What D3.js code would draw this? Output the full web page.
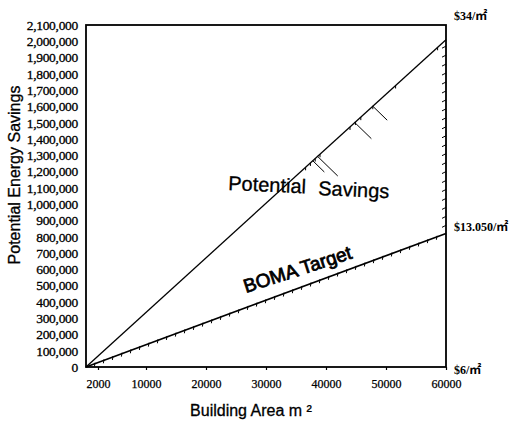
<!DOCTYPE html>
<html lang="en">
  <head>
    <meta charset="utf-8">
    <title>Potential Energy Savings</title>
    <script src="https://d3js.org/d3.v7.min.js"></script>
    <style>
      body { margin: 0; background: #fff; }
      svg { display: block; }
    </style>
  </head>
  <body>
    <div id="chart"></div>
    <script>

// data
var areaX = [0, 60000];
var potentialSavings = [0, 2010000];
var bomaTarget = [0, 820000];

var xTickValues = [2000, 10000, 20000, 30000, 40000, 50000, 60000];
var yTickValues = [0, 100000, 200000, 300000, 400000, 500000, 600000, 700000,
  800000, 900000, 1000000, 1100000, 1200000, 1300000, 1400000, 1500000,
  1600000, 1700000, 1800000, 1900000, 2000000, 2100000];

var rateLabels = ["$34/\u33A1", "$13.050/\u33A1", "$6/\u33A1"];
var rateValues = [2100000, 820000, 0];

// hatching marks printed along the lines (decoration)
var psHatch = [36600, 37400, 38200, 39000, 44000, 44900, 45800, 47800, 51600, 58600];
var psStrokes = [37800, 38600, 44800, 47800];
var psStrokeLen = [16, 28, 23, 20];

//constants
var w = 514;
var h = 423;
var margin = {top: 25, right: 68, bottom: 56, left: 86};

var serif = "'Liberation Serif', 'Times New Roman', 'Noto Sans CJK JP', serif";
var sans = "'Liberation Sans', Arial, sans-serif";

var svg = d3.select("#chart")
  .append("svg")
    .attr("width", w)
    .attr("height", h);

//Scales
var xScale = d3.scaleLinear()
  .domain([0, 60000])
  .range([margin.left, w - margin.right]);

var yScale = d3.scaleLinear()
  .domain([0, 2100000])
  .range([h - margin.bottom, margin.top]);

function lineAt(series, x) {
  return series[0] + (series[1] - series[0]) * (x - areaX[0]) / (areaX[1] - areaX[0]);
}

// scanned print looks heavy, thicken glyphs a bit
function inked(sel, sw) {
  sel.attr("fill", "#000").attr("stroke", "#000").attr("stroke-width", sw);
}

// axes
var xAxis = d3.axisBottom(xScale)
  .tickValues(xTickValues)
  .tickFormat(d3.format("d"))
  .tickSize(3)
  .tickPadding(9);

var yAxis = d3.axisLeft(yScale)
  .tickValues(yTickValues)
  .tickFormat(d3.format(","))
  .tickSize(0)
  .tickPadding(7);

var gx = svg.append("g")
  .attr("transform", `translate(0, ${yScale(0)})`)
  .call(xAxis);
gx.select(".domain").remove();
gx.selectAll("text")
  .attr("font-family", serif)
  .attr("font-size", 12)
  .call(inked, 0.25);
gx.selectAll("line").attr("stroke", "#000").attr("stroke-width", 1.2);

var gy = svg.append("g")
  .attr("transform", `translate(${xScale(0) - 1}, 0)`)
  .call(yAxis);
gy.select(".domain").remove();
gy.selectAll("text")
  .attr("font-family", serif)
  .attr("font-size", 13.5)
  .attr("letter-spacing", -0.3)
  .call(inked, 0.3);

// frame
svg.append("rect")
  .attr("x", xScale(0))
  .attr("y", yScale(2100000))
  .attr("width", xScale(60000) - xScale(0))
  .attr("height", yScale(0) - yScale(2100000))
  .attr("fill", "none")
  .attr("stroke", "#000")
  .attr("stroke-width", 1.8);

// lines
var line = d3.line()
  .x(d => xScale(d[0]))
  .y(d => yScale(d[1]));

svg.append("path")
  .datum(areaX.map((x, i) => [x, potentialSavings[i]]))
  .attr("d", line)
  .attr("fill", "none")
  .attr("stroke", "#000")
  .attr("stroke-width", 1.3);

svg.append("path")
  .datum(areaX.map((x, i) => [x, bomaTarget[i]]))
  .attr("d", line)
  .attr("fill", "none")
  .attr("stroke", "#000")
  .attr("stroke-width", 1.7);

// hatching under BOMA line
var bomaHatch = d3.range(1500, 60000, 1500);
svg.append("g")
  .selectAll("line")
  .data(bomaHatch)
  .enter().append("line")
    .attr("x1", d => xScale(d))
    .attr("x2", d => xScale(d) - 0.6)
    .attr("y1", d => yScale(lineAt(bomaTarget, d)) - 1)
    .attr("y2", d => yScale(lineAt(bomaTarget, d)) + 3)
    .attr("stroke", "#000")
    .attr("stroke-width", 1);

// hatching on right edge between the two line ends
var edgeHatch = d3.range(bomaTarget[1] + 50000, potentialSavings[1], 55000);
svg.append("g")
  .selectAll("line")
  .data(edgeHatch)
  .enter().append("line")
    .attr("x1", xScale(60000) - 4)
    .attr("x2", xScale(60000))
    .attr("y1", d => yScale(d) + 2)
    .attr("y2", d => yScale(d))
    .attr("stroke", "#000")
    .attr("stroke-width", 1);

// hatching under potential savings line
svg.append("g")
  .selectAll("line")
  .data(psHatch)
  .enter().append("line")
    .attr("x1", d => xScale(d))
    .attr("x2", d => xScale(d))
    .attr("y1", d => yScale(lineAt(potentialSavings, d)))
    .attr("y2", d => yScale(lineAt(potentialSavings, d)) + 3)
    .attr("stroke", "#000")
    .attr("stroke-width", 1);

svg.append("g")
  .selectAll("line")
  .data(psStrokes)
  .enter().append("line")
    .attr("x1", d => xScale(d))
    .attr("y1", d => yScale(lineAt(potentialSavings, d)))
    .attr("x2", (d, i) => xScale(d) + psStrokeLen[i] * 0.72)
    .attr("y2", (d, i) => yScale(lineAt(potentialSavings, d)) + psStrokeLen[i] * 0.7)
    .attr("stroke", "#000")
    .attr("stroke-width", 1);

// line labels
svg.append("text")
  .attr("transform", "translate(228, 190) rotate(2.5)")
  .attr("font-family", sans)
  .attr("font-size", 20)
  .call(inked, 0.3)
  .text("Potential");

svg.append("text")
  .attr("transform", "translate(318, 195) rotate(2.5)")
  .attr("font-family", sans)
  .attr("font-size", 20)
  .call(inked, 0.3)
  .text("Savings");

svg.append("text")
  .attr("transform", "translate(246, 293) rotate(-18)")
  .attr("font-family", sans)
  .attr("font-size", 19)
  .call(inked, 0.8)
  .text("BOMA Target");

// rate labels on the right
svg.append("g")
  .selectAll("text")
  .data(rateLabels)
  .enter().append("text")
    .attr("x", xScale(60000) + 8)
    .attr("y", (d, i) => yScale(rateValues[i]) + [-8, -5, 4][i])
    .attr("dominant-baseline", "middle")
    .attr("font-family", serif)
    .attr("font-size", 12)
    .attr("font-weight", "bold")
    .text(d => d);

// axis titles
svg.append("text")
  .attr("transform", "translate(20, 175) rotate(-90)")
  .attr("text-anchor", "middle")
  .attr("font-family", sans)
  .attr("font-size", 16)
  .call(inked, 0.3)
  .text("Potential Energy Savings");

svg.append("text")
  .attr("x", 251)
  .attr("y", 416)
  .attr("text-anchor", "middle")
  .attr("font-family", sans)
  .attr("font-size", 16)
  .call(inked, 0.3)
  .text("Building Area m \u00B2");

    </script>
  </body>
</html>
